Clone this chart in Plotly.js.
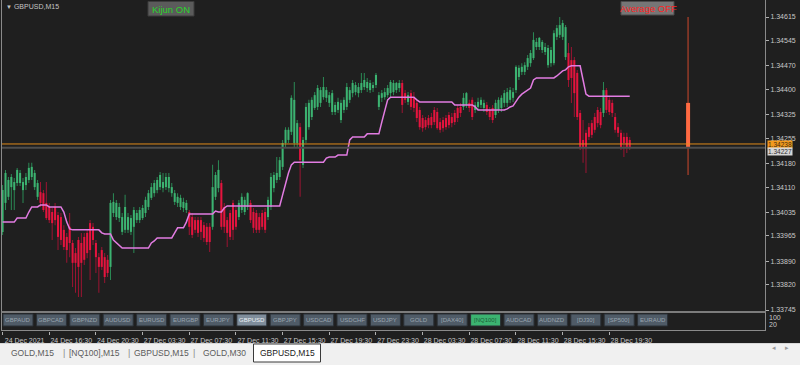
<!DOCTYPE html>
<html><head><meta charset="utf-8">
<script src="https://cdn.plot.ly/plotly-3.0.1.min.js"></script>
<style>html,body{margin:0;padding:0;background:#1f1f1f;overflow:hidden}#chart{width:800px;height:365px}</style>
</head><body><div id="chart"></div>
<script>
// ---------------- DATA ----------------
const chartSymbol = 'GBPUSD,M15';
const open = [
1.33977,1.34063,1.34081,1.34110,1.34101,1.34122,1.34122,1.34101,1.34116,1.34131,
1.34140,1.34110,1.34081,1.34095,1.34092,1.34063,1.34051,1.34036,1.34051,1.34027,
1.34021,1.33983,1.33962,1.33992,1.33944,1.33914,1.33953,1.33944,1.33962,1.33974,
1.34003,1.33992,1.33944,1.33902,1.33923,1.33902,1.33894,1.33873,1.34033,1.34021,
1.34018,1.33977,1.33983,1.33983,1.33977,1.33992,1.34012,1.34012,1.34018,1.34033,
1.34051,1.34078,1.34092,1.34101,1.34110,1.34107,1.34110,1.34107,1.34092,1.34066,
1.34063,1.34051,1.34048,1.34042,1.34036,1.34021,1.34012,1.34012,1.34012,1.33997,
1.33992,1.33992,1.33992,1.34081,1.34107,1.34122,1.34051,1.34012,1.34033,1.34063,
1.34042,1.34021,1.34042,1.34036,1.34051,1.34063,1.34036,1.34033,1.34021,1.34033,
1.34036,1.34021,1.34051,1.34107,1.34131,1.34140,1.34170,1.34241,1.34250,1.34274,
1.34241,1.34241,1.34288,1.34176,1.34250,1.34288,1.34318,1.34345,
1.34348,1.34360,1.34377,1.34375,1.34360,1.34333,1.34333,1.34339,1.34309,1.34339,
1.34348,1.34369,1.34389,1.34392,1.34389,1.34398,1.34407,1.34404,1.34398,1.34404,
1.34413,1.34348,1.34375,1.34377,1.34383,1.34389,1.34392,1.34398,1.34404,1.34419,
1.34389,1.34363,1.34389,1.34375,1.34360,1.34339,1.34315,1.34309,1.34315,1.34318,
1.34339,1.34333,1.34303,1.34309,1.34315,1.34324,1.34318,1.34330,1.34345,1.34348,
1.34348,1.34354,1.34360,1.34369,1.34339,1.34348,1.34354,1.34345,1.34354,1.34339,
1.34345,1.34324,1.34339,1.34345,1.34360,1.34360,1.34369,1.34375,1.34398,1.34437,
1.34452,1.34452,1.34467,1.34478,1.34493,1.34526,1.34526,1.34517,1.34511,1.34472,
1.34478,1.34478,1.34556,1.34562,1.34556,1.34496,1.34508,1.34487,1.34487,1.34449,
1.34330,1.34250,1.34271,1.34288,1.34300,1.34318,1.34339,1.34333,1.34330,1.34398,
1.34369,1.34360,1.34318,1.34288,1.34271,1.34259,1.34259,1.34250];
const high = [
1.34116,1.34161,1.34140,1.34149,1.34137,1.34167,1.34161,1.34137,1.34152,1.34182,
1.34182,1.34161,1.34131,1.34125,1.34101,1.34125,1.34063,1.34048,1.34063,1.34036,
1.34033,1.33997,1.33974,1.34033,1.33953,1.33929,1.33962,1.33974,1.33974,1.33983,
1.34012,1.34003,1.33953,1.33914,1.33932,1.33914,1.33908,1.34072,1.34092,1.34072,
1.34063,1.34033,1.34087,1.34033,1.34027,1.34051,1.34042,1.34051,1.34057,1.34081,
1.34101,1.34122,1.34131,1.34140,1.34155,1.34152,1.34152,1.34152,1.34122,1.34101,
1.34092,1.34087,1.34078,1.34072,1.34042,1.34033,1.34021,1.34021,1.34021,1.34006,
1.34003,1.34003,1.34176,1.34155,1.34190,1.34131,1.34063,1.34021,1.34042,1.34072,
1.34051,1.34072,1.34092,1.34081,1.34095,1.34072,1.34048,1.34042,1.34033,1.34042,
1.34048,1.34081,1.34152,1.34155,1.34199,1.34199,1.34250,1.34288,1.34288,1.34383,
1.34422,1.34309,1.34300,1.34259,1.34360,1.34369,1.34377,1.34392,
1.34413,1.34407,1.34437,1.34407,1.34392,1.34398,1.34363,1.34375,1.34369,1.34377,
1.34419,1.34407,1.34428,1.34422,1.34419,1.34449,1.34449,1.34434,1.34428,1.34422,
1.34449,1.34392,1.34398,1.34404,1.34413,1.34428,1.34428,1.34422,1.34428,1.34428,
1.34398,1.34392,1.34398,1.34392,1.34369,1.34348,1.34324,1.34318,1.34324,1.34330,
1.34348,1.34345,1.34315,1.34318,1.34324,1.34333,1.34330,1.34339,1.34354,1.34360,
1.34389,1.34392,1.34369,1.34377,1.34363,1.34375,1.34377,1.34369,1.34363,1.34348,
1.34354,1.34369,1.34377,1.34383,1.34398,1.34404,1.34407,1.34404,1.34472,1.34472,
1.34478,1.34481,1.34502,1.34517,1.34570,1.34553,1.34556,1.34547,1.34538,1.34532,
1.34526,1.34576,1.34591,1.34615,1.34606,1.34591,1.34538,1.34526,1.34496,1.34458,
1.34339,1.34309,1.34280,1.34300,1.34309,1.34330,1.34348,1.34345,1.34422,1.34404,
1.34377,1.34369,1.34330,1.34300,1.34280,1.34271,1.34271,1.34259];
const low = [
1.33968,1.34042,1.34072,1.34042,1.34042,1.34113,1.34113,1.34063,1.34101,1.34122,
1.34131,1.34101,1.34072,1.34051,1.34036,1.34012,1.34003,1.33953,1.33997,1.33923,
1.33938,1.33923,1.33885,1.33902,1.33813,1.33796,1.33784,1.33784,1.33879,1.33899,
1.33834,1.33938,1.33855,1.33796,1.33864,1.33825,1.33843,1.33834,1.34021,1.34012,
1.34006,1.33968,1.33974,1.33974,1.33968,1.33914,1.34003,1.34003,1.34012,1.34021,
1.34042,1.34072,1.34081,1.34092,1.34101,1.34095,1.34101,1.34095,1.34081,1.34057,
1.34051,1.34042,1.34036,1.34033,1.33968,1.33959,1.33974,1.33962,1.33953,1.33947,
1.33938,1.33917,1.33983,1.34072,1.34095,1.33983,1.33974,1.33932,1.33953,1.33953,
1.33983,1.34012,1.34033,1.34027,1.34042,1.34003,1.33974,1.33974,1.33974,1.33983,
1.33974,1.34012,1.34042,1.34095,1.34122,1.34131,1.34161,1.34229,1.34241,1.34265,
1.34229,1.34229,1.34081,1.34167,1.34241,1.34280,1.34309,1.34339,
1.34339,1.34348,1.34369,1.34363,1.34348,1.34324,1.34324,1.34330,1.34300,1.34330,
1.34339,1.34360,1.34377,1.34383,1.34377,1.34389,1.34398,1.34392,1.34389,1.34392,
1.34404,1.34339,1.34363,1.34369,1.34375,1.34377,1.34383,1.34389,1.34392,1.34330,
1.34360,1.34354,1.34339,1.34333,1.34303,1.34280,1.34274,1.34280,1.34285,1.34285,
1.34294,1.34280,1.34271,1.34274,1.34280,1.34285,1.34288,1.34294,1.34303,1.34318,
1.34339,1.34345,1.34333,1.34309,1.34330,1.34339,1.34345,1.34333,1.34324,1.34309,
1.34300,1.34315,1.34330,1.34333,1.34348,1.34348,1.34360,1.34363,1.34389,1.34428,
1.34443,1.34443,1.34458,1.34467,1.34487,1.34517,1.34517,1.34508,1.34502,1.34464,
1.34467,1.34472,1.34547,1.34553,1.34547,1.34487,1.34407,1.34360,1.34318,1.34309,
1.34220,1.34182,1.34152,1.34250,1.34256,1.34271,1.34288,1.34285,1.34318,1.34330,
1.34324,1.34318,1.34271,1.34259,1.34220,1.34199,1.34211,1.34220];
const close = [
1.34101,1.34152,1.34131,1.34140,1.34125,1.34161,1.34152,1.34125,1.34140,1.34167,
1.34170,1.34152,1.34122,1.34063,1.34042,1.34018,1.34012,1.34003,1.34012,1.33962,
1.33953,1.33932,1.33923,1.33944,1.33885,1.33885,1.33873,1.33885,1.33894,1.33914,
1.33923,1.33953,1.33902,1.33873,1.33873,1.33843,1.33855,1.34063,1.34066,1.34063,
1.34051,1.34021,1.34051,1.34021,1.34018,1.34042,1.34033,1.34042,1.34048,1.34072,
1.34092,1.34110,1.34122,1.34131,1.34146,1.34125,1.34140,1.34140,1.34110,1.34092,
1.34081,1.34078,1.34066,1.34063,1.33992,1.33968,1.33983,1.33974,1.33977,1.33959,
1.33947,1.33947,1.34110,1.34146,1.34161,1.33992,1.33992,1.33974,1.33962,1.33983,
1.33992,1.34063,1.34081,1.34072,1.34092,1.34012,1.33989,1.33983,1.33983,1.33992,
1.33983,1.34072,1.34140,1.34146,1.34152,1.34190,1.34241,1.34280,1.34280,1.34375,
1.34369,1.34300,1.34190,1.34250,1.34348,1.34360,1.34369,1.34383,
1.34404,1.34398,1.34407,1.34398,1.34383,1.34389,1.34354,1.34363,1.34360,1.34369,
1.34407,1.34398,1.34419,1.34413,1.34407,1.34419,1.34428,1.34422,1.34419,1.34413,
1.34443,1.34383,1.34389,1.34392,1.34404,1.34422,1.34419,1.34419,1.34419,1.34354,
1.34369,1.34383,1.34348,1.34345,1.34315,1.34288,1.34285,1.34288,1.34294,1.34294,
1.34303,1.34285,1.34280,1.34285,1.34288,1.34294,1.34300,1.34303,1.34315,1.34330,
1.34375,1.34389,1.34345,1.34318,1.34354,1.34363,1.34369,1.34360,1.34333,1.34318,
1.34309,1.34360,1.34369,1.34375,1.34389,1.34392,1.34398,1.34392,1.34467,1.34464,
1.34467,1.34472,1.34493,1.34508,1.34547,1.34541,1.34553,1.34541,1.34526,1.34523,
1.34517,1.34567,1.34582,1.34591,1.34597,1.34585,1.34428,1.34434,1.34389,1.34318,
1.34229,1.34229,1.34229,1.34259,1.34265,1.34280,1.34300,1.34294,1.34398,1.34339,
1.34333,1.34330,1.34280,1.34271,1.34229,1.34241,1.34229,1.34227];
const kijun = [
1.34006,1.34006,1.34006,1.34006,1.34006,1.34018,1.34018,1.34018,1.34018,1.34036,
1.34051,1.34051,1.34051,1.34057,1.34057,1.34057,1.34051,1.34051,1.34051,1.34051,
1.34051,1.34036,1.34006,1.33986,1.33983,1.33983,1.33983,1.33983,1.33983,1.33983,
1.33983,1.33983,1.33983,1.33983,1.33974,1.33971,1.33971,1.33971,1.33953,1.33944,
1.33935,1.33929,1.33929,1.33929,1.33929,1.33929,1.33929,1.33929,1.33929,1.33929,
1.33929,1.33944,1.33950,1.33959,1.33959,1.33959,1.33959,1.33959,1.33959,1.33974,
1.33989,1.33989,1.33989,1.34006,1.34030,1.34030,1.34030,1.34030,1.34030,1.34030,
1.34030,1.34030,1.34030,1.34039,1.34036,1.34036,1.34048,1.34054,1.34054,1.34054,
1.34054,1.34054,1.34054,1.34054,1.34054,1.34054,1.34054,1.34054,1.34054,1.34054,
1.34054,1.34054,1.34054,1.34054,1.34054,1.34054,1.34087,1.34122,1.34152,1.34176,
1.34184,1.34184,1.34184,1.34184,1.34184,1.34184,1.34184,1.34184,1.34184,1.34184,
1.34184,1.34196,1.34199,1.34199,1.34199,1.34205,1.34205,1.34205,1.34205,1.34250,
1.34259,1.34259,1.34259,1.34259,1.34259,1.34268,1.34268,1.34268,1.34268,1.34268,
1.34303,1.34339,1.34369,1.34377,1.34377,1.34377,1.34377,1.34377,1.34377,1.34377,
1.34377,1.34377,1.34369,1.34363,1.34363,1.34363,1.34363,1.34363,1.34363,1.34363,
1.34363,1.34363,1.34363,1.34363,1.34363,1.34354,1.34354,1.34354,1.34354,1.34354,
1.34354,1.34354,1.34348,1.34339,1.34339,1.34339,1.34339,1.34339,1.34339,1.34339,
1.34339,1.34339,1.34339,1.34342,1.34348,1.34351,1.34366,1.34377,1.34386,1.34392,
1.34398,1.34404,1.34428,1.34434,1.34434,1.34434,1.34434,1.34434,1.34434,1.34434,
1.34440,1.34449,1.34455,1.34458,1.34467,1.34470,1.34470,1.34470,1.34470,1.34428,
1.34386,1.34380,1.34380,1.34380,1.34380,1.34380,1.34380,1.34380,1.34380,1.34380,
1.34380,1.34380,1.34380,1.34380,1.34380,1.34380];
const timeLabels = ['24 Dec 2021','24 Dec 16:30','24 Dec 20:30','27 Dec 03:30','27 Dec 07:30',
  '27 Dec 11:30','27 Dec 15:30','27 Dec 19:30','27 Dec 23:30','28 Dec 03:30','28 Dec 07:30',
  '28 Dec 11:30','28 Dec 15:30','28 Dec 19:30'];
const barsPerTimeLabel = 16;
const priceTicks = [1.34615,1.34545,1.34470,1.34400,1.34325,1.34255,1.34180,1.34110,1.34035,1.33965,1.33890,1.33820,1.33745];
const askPrice = 1.34238;
const bidPrice = 1.34227;
const rangeBarIndex = 235;
const rangeHigh = 1.34615, rangeLow = 1.34146;
const rangeBodyHigh = 1.34360, rangeBodyLow = 1.34226;
const subWindowLevels = ['100', '20'];
const symbolButtons = ['GBPAUD','GBPCAD','GBPNZD','AUDUSD','EURUSD','EURGBP','EURJPY','GBPUSD','GBPJPY',
  'USDCAD','USDCHF','USDJPY','GOLD','[DAX40]','[NQ100]','AUDCAD','AUDNZD','[DJ30]','[SP500]','EURAUD'];
const tabNames = ['GOLD,M15','[NQ100],M15','GBPUSD,M15','GOLD,M30','GBPUSD,M15'];

// ---------------- CHART ----------------
const W = 800, H = 365;
const px = v => v / W;
const py = v => 1 - v / H;
const FONT = 'Liberation Sans, Arial, sans-serif';
const idx = close.map((_, i) => i);
const isUp = close.map((c, i) => c >= open[i]);

const traces = [
  { type: 'bar', x: idx, base: low, y: idx.map(i => high[i] - low[i]), width: 0.34,
    marker: { color: isUp.map(u => u ? '#2b8a55' : '#9c1432'), line: { width: 0 } },
    hoverinfo: 'skip', showlegend: false },
  { type: 'bar', x: idx, base: idx.map(i => Math.min(open[i], close[i])),
    y: idx.map(i => Math.max(Math.abs(close[i] - open[i]), 0.00003)), width: 0.7,
    marker: { color: isUp.map(u => u ? '#3cb371' : '#e5143e'), line: { width: 0 } },
    hoverinfo: 'skip', showlegend: false },
  { type: 'scatter', mode: 'lines', x: kijun.map((_, i) => i), y: kijun,
    line: { color: '#e27ce2', width: 1.5 }, hoverinfo: 'skip', showlegend: false },
  { type: 'scatter', mode: 'lines', x: [rangeBarIndex, rangeBarIndex], y: [rangeLow, rangeHigh],
    line: { color: '#8e3a28', width: 1.6 }, hoverinfo: 'skip', showlegend: false },
  { type: 'scatter', mode: 'lines', x: [rangeBarIndex, rangeBarIndex], y: [rangeBodyLow, rangeBodyHigh],
    line: { color: '#ff6a42', width: 4 }, hoverinfo: 'skip', showlegend: false },
  { type: 'scatter', mode: 'markers', x: [0], y: [0.5], xaxis: 'x2', yaxis: 'y2',
    marker: { opacity: 0 }, hoverinfo: 'skip', showlegend: false }
];

const xRange = [-0.2, 261.37];
const shapes = [];
const annotations = [];

// frame lines
const frameCol = '#8a8a8a';
shapes.push({ type: 'rect', xref: 'paper', yref: 'paper', x0: 0, x1: 1, y0: 0, y1: py(343), fillcolor: '#f0f0f0', line: { width: 0 }, layer: 'below' });
shapes.push({ type: 'line', xref: 'paper', yref: 'paper', x0: 0, x1: 1, y0: py(343.5), y1: py(343.5), line: { color: '#d8d8d8', width: 1 } });
shapes.push({ type: 'line', xref: 'paper', yref: 'paper', x0: px(1.5), x1: px(1.5), y0: py(331), y1: 1, line: { color: frameCol, width: 1 } });
shapes.push({ type: 'line', xref: 'paper', yref: 'paper', x0: px(765.5), x1: px(765.5), y0: py(331), y1: 1, line: { color: frameCol, width: 1 } });
shapes.push({ type: 'line', xref: 'paper', yref: 'paper', x0: px(1.5), x1: px(765.5), y0: py(312), y1: py(312), line: { color: '#7c7c7c', width: 2 } });
shapes.push({ type: 'line', xref: 'paper', yref: 'paper', x0: px(1.5), x1: px(765.5), y0: py(330.5), y1: py(330.5), line: { color: frameCol, width: 1 } });
// ask / bid lines
shapes.push({ type: 'line', xref: 'paper', yref: 'y', x0: px(2), x1: px(765), y0: bidPrice, y1: bidPrice, line: { color: '#4e4e4e', width: 2 } });
shapes.push({ type: 'line', xref: 'paper', yref: 'y', x0: px(2), x1: px(765), y0: askPrice, y1: askPrice, line: { color: '#e08a1a', width: 1 } });

// price boxes
annotations.push({ xref: 'paper', yref: 'y', x: px(766.5), y: askPrice, xanchor: 'left', yanchor: 'middle', yshift: -0.5,
  text: askPrice.toFixed(5), showarrow: false, bgcolor: '#f39a1e', borderpad: 0, font: { family: FONT, size: 6.5, color: '#3a2a10' } });
annotations.push({ xref: 'paper', yref: 'y', x: px(766.5), y: bidPrice, xanchor: 'left', yanchor: 'middle', yshift: -3.5,
  text: bidPrice.toFixed(5), showarrow: false, bgcolor: '#d6d6d6', borderpad: 0, font: { family: FONT, size: 6.5, color: '#303030' } });

// title + indicator buttons
annotations.push({ xref: 'paper', yref: 'paper', x: px(4), y: py(6.5), xanchor: 'left', yanchor: 'middle', showarrow: false,
  text: '<span style="font-size:6px">▼</span> ' + chartSymbol, font: { family: FONT, size: 7, color: '#c4c4c4' } });
shapes.push({ type: 'rect', xref: 'paper', yref: 'paper', x0: px(148), x1: px(194), y0: py(16), y1: py(1.5), fillcolor: '#5b5b5b', line: { color: '#3c3c3c', width: 1 } });
annotations.push({ xref: 'paper', yref: 'paper', x: px(171), y: py(9), xanchor: 'center', yanchor: 'middle', showarrow: false,
  text: 'Kijun ON', font: { family: FONT, size: 9.5, color: '#2ad42a' } });
shapes.push({ type: 'rect', xref: 'paper', yref: 'paper', x0: px(621), x1: px(674), y0: py(15), y1: py(1.5), fillcolor: '#767676', line: { color: '#4a4a4a', width: 1 } });
annotations.push({ xref: 'paper', yref: 'paper', x: px(648), y: py(8.5), xanchor: 'center', yanchor: 'middle', showarrow: false,
  text: 'Average OFF', font: { family: FONT, size: 9.5, color: '#ff2424' } });

// sub-window levels
subWindowLevels.forEach((t, k) => annotations.push({ xref: 'paper', yref: 'paper', x: px(767), y: py(317.5 + k * 6.5),
  xanchor: 'left', yanchor: 'middle', showarrow: false, text: t, font: { family: FONT, size: 7, color: '#c8c8c8' } }));

// symbol buttons
symbolButtons.forEach((name, k) => {
  const left = 3 + 33.4 * k;
  let fill = '#4f5b67', txt = '#9aa5b0';
  if (name === 'GBPUSD') { fill = '#7f8d9b'; txt = '#eef3f7'; }
  if (name === '[NQ100]') { fill = '#3cb371'; txt = '#1d5e38'; }
  shapes.push({ type: 'rect', xref: 'paper', yref: 'paper', x0: px(left), x1: px(left + 30), y0: py(326), y1: py(314),
    fillcolor: fill, line: { color: '#2a3036', width: 1 } });
  annotations.push({ xref: 'paper', yref: 'paper', x: px(left + 15), y: py(320), xanchor: 'center', yanchor: 'middle',
    showarrow: false, text: name, font: { family: FONT, size: 6, color: txt } });
});

// terminal tabs
const tabCenters = [32, 94, 161, 224, 287];
shapes.push({ type: 'rect', xref: 'paper', yref: 'paper', x0: px(253.5), x1: px(320.5), y0: py(362), y1: py(344),
  fillcolor: '#ffffff', line: { color: '#3a3a3a', width: 1 } });
tabNames.forEach((name, k) => {
  annotations.push({ xref: 'paper', yref: 'paper', x: px(tabCenters[k]), y: py(353), xanchor: 'center', yanchor: 'middle',
    showarrow: false, text: name, font: { family: FONT, size: 8.5, color: k === tabNames.length - 1 ? '#1a1a1a' : '#5c5c5c' } });
  if (k < tabNames.length - 2) annotations.push({ xref: 'paper', yref: 'paper', x: px((tabCenters[k] + tabCenters[k + 1]) / 2 + 1), y: py(353),
    xanchor: 'center', yanchor: 'middle', showarrow: false, text: '|', font: { family: FONT, size: 9, color: '#8a8a8a' } });
});
annotations.push({ xref: 'paper', yref: 'paper', x: px(778), y: py(353), showarrow: false, text: '◂', font: { family: FONT, size: 7, color: '#9a9a9a' } });
annotations.push({ xref: 'paper', yref: 'paper', x: px(791), y: py(353), showarrow: false, text: '▸', font: { family: FONT, size: 7, color: '#9a9a9a' } });

const layout = {
  width: W, height: H, autosize: false,
  margin: { l: 0, r: 0, t: 0, b: 0, pad: 0 },
  paper_bgcolor: '#1f1f1f', plot_bgcolor: '#1f1f1f',
  barmode: 'overlay', showlegend: false,
  font: { family: FONT, color: '#c8c8c8' },
  xaxis: { domain: [px(2), px(765)], range: xRange, showgrid: false, zeroline: false, showticklabels: false,
    ticks: '', showline: false, fixedrange: true },
  yaxis: { domain: [py(312), 1], range: [1.337391, 1.346655], side: 'right', showgrid: false, zeroline: false,
    tickvals: priceTicks, ticktext: priceTicks.map(v => v.toFixed(5)), ticks: 'outside', ticklen: 3,
    tickcolor: '#b0b0b0', tickfont: { family: FONT, size: 7, color: '#c8c8c8' }, showline: false, fixedrange: true },
  xaxis2: { domain: [px(2), px(765)], range: xRange, anchor: 'y2', showgrid: false, zeroline: false, showline: false,
    tickvals: timeLabels.map((_, k) => k * barsPerTimeLabel), ticktext: timeLabels, ticks: 'outside', ticklen: 3,
    tickcolor: '#b0b0b0', tickfont: { family: FONT, size: 7, color: '#c8c8c8' }, ticklabelshift: 22, ticklabelstandoff: 0,
    tickangle: 0, fixedrange: true },
  yaxis2: { domain: [py(330.5), py(312)], range: [0, 1], anchor: 'x2', visible: false, fixedrange: true },
  shapes: shapes, annotations: annotations
};

Plotly.newPlot('chart', traces, layout, { staticPlot: true, displayModeBar: false });
</script>
</body></html>
